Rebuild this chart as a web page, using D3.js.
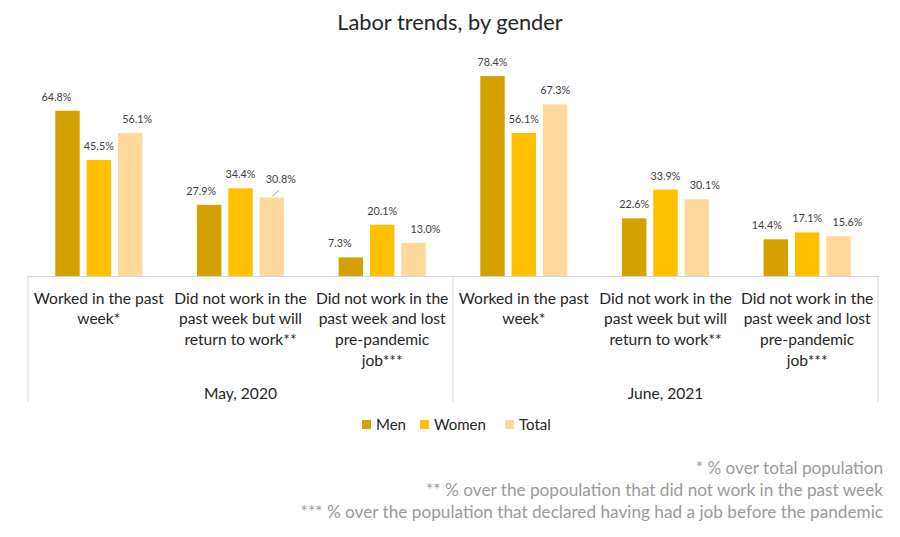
<!DOCTYPE html>
<html><head><meta charset="utf-8">
<script src="https://cdn.jsdelivr.net/npm/d3@7/dist/d3.min.js"></script>
<style>body{margin:0;background:#fff}svg{display:block}</style>
</head><body><svg id="c" width="900" height="537"></svg>
<script>
const title = "Labor trends, by gender";
const periods = ["May, 2020", "June, 2021"];
const categories = [
  ["Worked in the past", "week*"],
  ["Did not work in the", "past week but will", "return to work**"],
  ["Did not work in the", "past week and lost", "pre-pandemic", "job***"]
];
const seriesNames = ["Men", "Women", "Total"];
const men   = [64.8, 27.9, 7.3, 78.4, 22.6, 14.4];
const women = [45.5, 34.4, 20.1, 56.1, 33.9, 17.1];
const total = [56.1, 30.8, 13.0, 67.3, 30.1, 15.6];
const footnotes = [
  "* % over total population",
  "** % over the popoulation that did not work in the past week",
  "*** % over the population that declared having had a job before the pandemic"
];

const colors = {Men: "#D4A100", Women: "#FFC000", Total: "#FFD99C"};
const values = {Men: men, Women: women, Total: total};
// label nudges (layout only), mimic the original label placement
const labelDx = [
  [-11, 0, 7], [-8, 0, 9], [-11, 0, 12],
  [0, 0, 0], [0, 0, 8], [-9, 0, 9]
];
const labelLeader = {"1-2": true};

const svg = d3.select("#c");
const font = "Lato, 'Open Sans', sans-serif";

const groups = [];
periods.forEach((p, pi) => categories.forEach((c, ci) => groups.push({pi, ci, id: pi * 3 + ci})));

const x = d3.scaleBand().domain(d3.range(groups.length)).range([28, 878]).paddingInner(0).paddingOuter(0);
const bw = x.bandwidth();
const xi = d3.scaleBand().domain(seriesNames).range([bw / 2 - 47, bw / 2 + 47]).paddingInner(0.22).paddingOuter(0.11);
const y = d3.scaleLinear().domain([0, 100]).range([276, 21]);

// title
svg.append("text").attr("x", 450).attr("y", 30).attr("text-anchor", "middle")
  .attr("font-family", font).attr("font-size", 21.8).attr("fill", "#262626").text(title);

// bars
groups.forEach(g => {
  const gx = x(g.id);
  seriesNames.forEach((s, si) => {
    const v = values[s][g.id];
    svg.append("rect")
      .attr("x", gx + xi(s)).attr("y", y(v))
      .attr("width", xi.bandwidth()).attr("height", y(0) - y(v))
      .attr("fill", colors[s]);
    const cx = gx + xi(s) + xi.bandwidth() / 2;
    const lead = labelLeader[g.id + "-" + si];
    const lx = cx + labelDx[g.id][si];
    const ly = y(v) - (lead ? 14 : 10);
    svg.append("text").attr("x", lx).attr("y", ly).attr("text-anchor", "middle")
      .attr("font-family", font).attr("font-size", 10.8).attr("fill", "#404040")
      .text(v.toFixed(1) + "%");
    if (lead) {
      svg.append("line").attr("x1", cx).attr("y1", y(v) - 1).attr("x2", cx + 7).attr("y2", y(v) - 7)
        .attr("stroke", "#888").attr("stroke-width", 0.8);
    }
  });
});

// axis
const axisColor = "#d6d6d6";
svg.append("line").attr("x1", 28).attr("x2", 878).attr("y1", y(0) + 0.5).attr("y2", y(0) + 0.5)
  .attr("stroke", axisColor).attr("stroke-width", 1);
[0, 3, 6].forEach(k => {
  const xx = k < 6 ? x(k) : x(5) + bw;
  svg.append("line").attr("x1", xx).attr("x2", xx).attr("y1", y(0)).attr("y2", 402)
    .attr("stroke", axisColor).attr("stroke-width", 1);
});

// category labels
groups.forEach(g => {
  const cx = x(g.id) + bw / 2;
  const t = svg.append("text").attr("text-anchor", "middle").attr("font-family", font)
    .attr("font-size", 15.6).attr("fill", "#262626");
  categories[g.ci].forEach((line, li) => {
    t.append("tspan").attr("x", cx).attr("y", 303.5 + li * 20.7).text(line);
  });
});
periods.forEach((p, pi) => {
  const cx = x(pi * 3) + bw * 1.5;
  svg.append("text").attr("x", cx).attr("y", 398.5).attr("text-anchor", "middle")
    .attr("font-family", font).attr("font-size", 15.6).attr("fill", "#262626").text(p);
});

// legend
const legendX = [362, 420, 505];
seriesNames.forEach((s, i) => {
  svg.append("rect").attr("x", legendX[i]).attr("y", 420).attr("width", 9).attr("height", 9).attr("fill", colors[s]);
  svg.append("text").attr("x", legendX[i] + 14).attr("y", 430).attr("font-family", font)
    .attr("font-size", 15).attr("fill", "#262626").text(s);
});

// footnotes
footnotes.forEach((f, i) => {
  svg.append("text").attr("x", 883).attr("y", 473.5 + i * 22).attr("text-anchor", "end")
    .attr("font-family", font).attr("font-size", 17.2).attr("fill", "#9a9a9a").text(f);
});
</script></body></html>
